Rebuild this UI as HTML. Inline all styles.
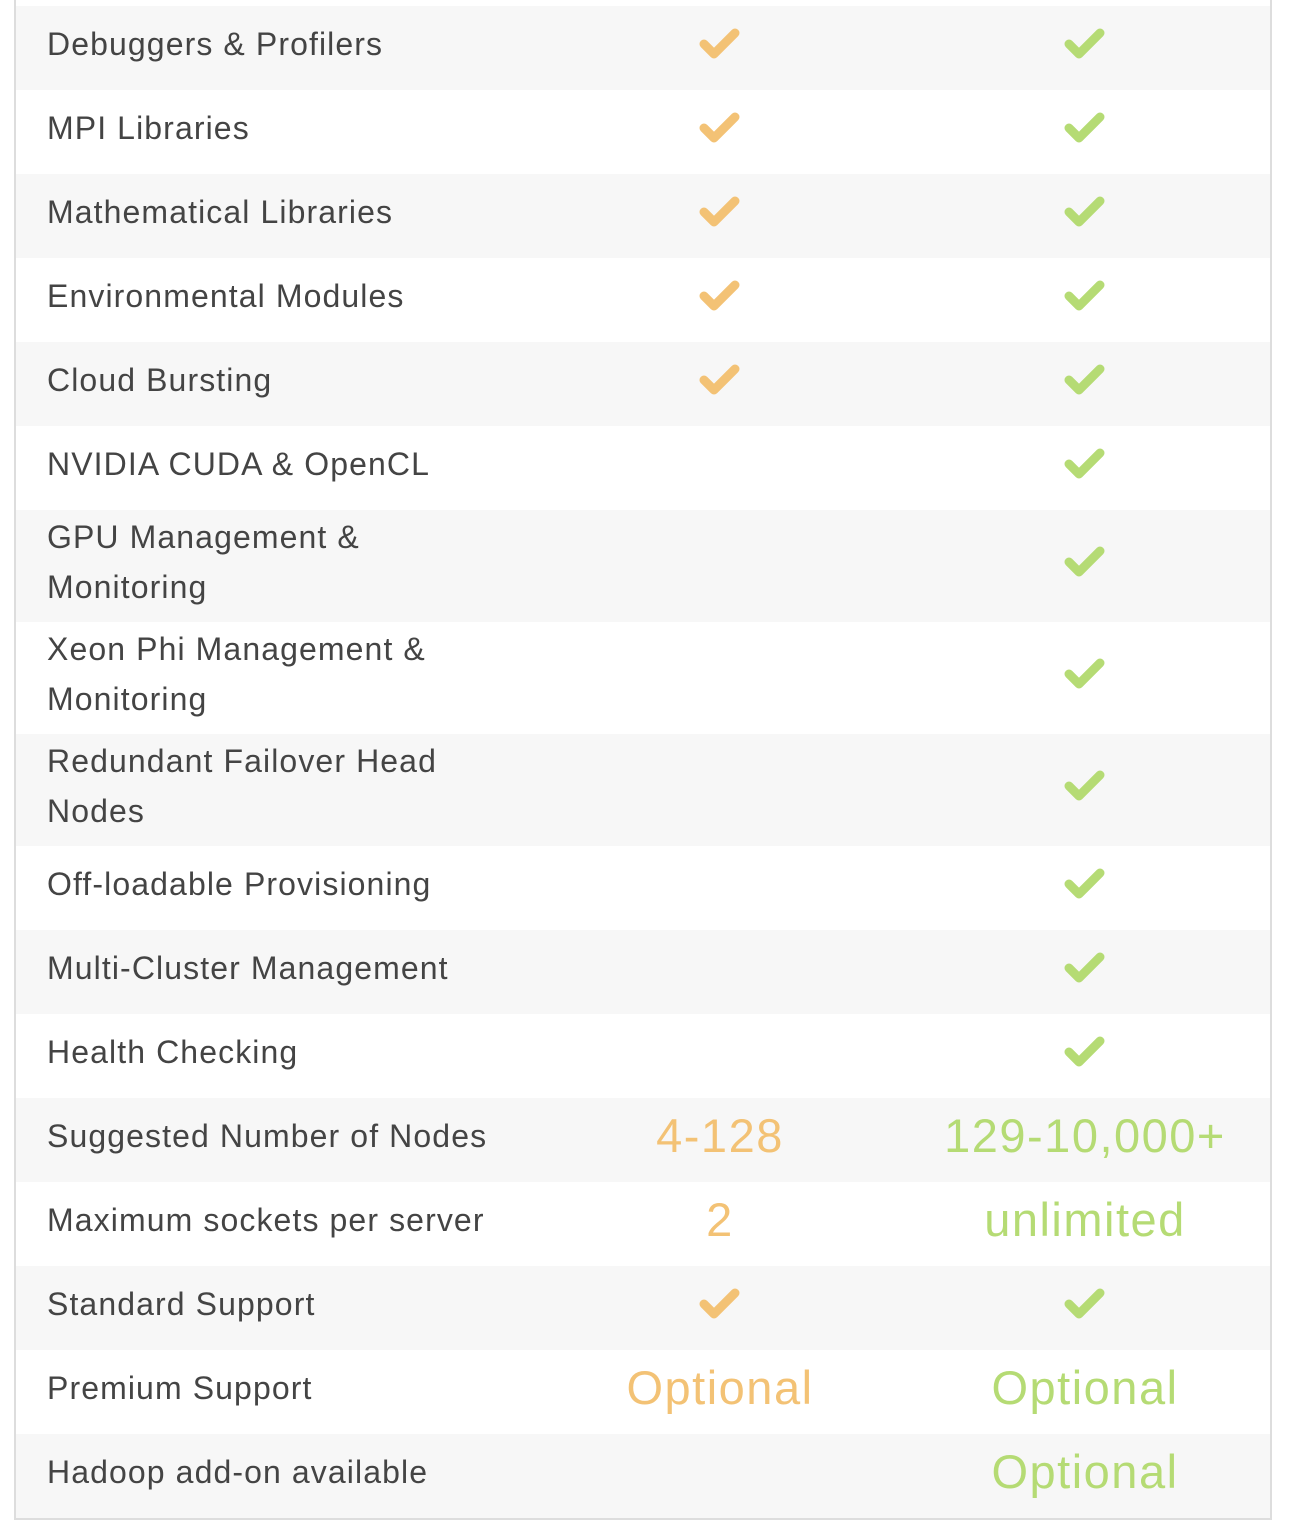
<!DOCTYPE html>
<html><head><meta charset="utf-8"><style>
body{margin:0;width:1290px;height:1532px;background:#fff;position:relative;overflow:hidden;font-family:"Liberation Sans",sans-serif}
.t{position:absolute;left:14px;top:0;width:1254px;height:1518px;border-left:2px solid #ddd;border-right:2px solid #ddd;border-bottom:2px solid #ddd}
.r{position:absolute;left:16px;width:1254px}
.g{background:#f7f7f7}
.l{position:absolute;left:47px;font-size:32px;color:#444;line-height:50px;letter-spacing:1.1px;white-space:nowrap}
.c{position:absolute;width:44px;height:34px}
.v{position:absolute;width:360px;text-align:center;font-size:47px;line-height:60px;letter-spacing:1.5px}
.o{color:#f3c275}.gr{color:#b5db74}
</style></head><body>
<div class="t"></div>
<div id="rows"></div>
<script>
const rows=[
["Debuggers & Profilers",6,84,"c","c"],
["MPI Libraries",90,84,"c","c"],
["Mathematical Libraries",174,84,"c","c"],
["Environmental Modules",258,84,"c","c"],
["Cloud Bursting",342,84,"c","c"],
["NVIDIA CUDA & OpenCL",426,84,"","c"],
["GPU Management &<br>Monitoring",510,112,"","c"],
["Xeon Phi Management &<br>Monitoring",622,112,"","c"],
["Redundant Failover Head<br>Nodes",734,112,"","c"],
["Off-loadable Provisioning",846,84,"","c"],
["Multi-Cluster Management",930,84,"","c"],
["Health Checking",1014,84,"","c"],
["Suggested Number of Nodes",1098,84,"4-128","129-10,000+"],
["Maximum sockets per server",1182,84,"2","unlimited"],
["Standard Support",1266,84,"c","c"],
["Premium Support",1350,84,"Optional","Optional"],
["Hadoop add-on available",1434,84,"","Optional"]];
let h="";
rows.forEach((r,i)=>{
 const [t,y,hh,a,b]=r;
 h+=`<div class="r${i%2==0?' g':''}" style="top:${y}px;height:${hh}px"></div>`;
 const lines=t.split("<br>").length;
 h+=`<div class="l" style="top:${y+hh/2-25*lines-4}px">${t}</div>`;
 [[a,720,'#f3c275','o'],[b,1085,'#b5db74','gr']].forEach(([v,x,col,cls])=>{
  if(!v)return;
  const cy=y+hh/2-4;
  if(v=="c"){
   h+=`<svg class="c" style="left:${x-22}px;top:${cy-17}px" viewBox="0 0 44 34"><polyline points="6,17 16,27 37,6" fill="none" stroke="${col}" stroke-width="9" stroke-linecap="round" stroke-linejoin="round"/></svg>`;
  } else {
   h+=`<div class="v ${cls}" style="left:${x-180}px;top:${cy-30}px">${v}</div>`;
  }
 });
});
document.getElementById("rows").innerHTML=h;
</script>
</body></html>
